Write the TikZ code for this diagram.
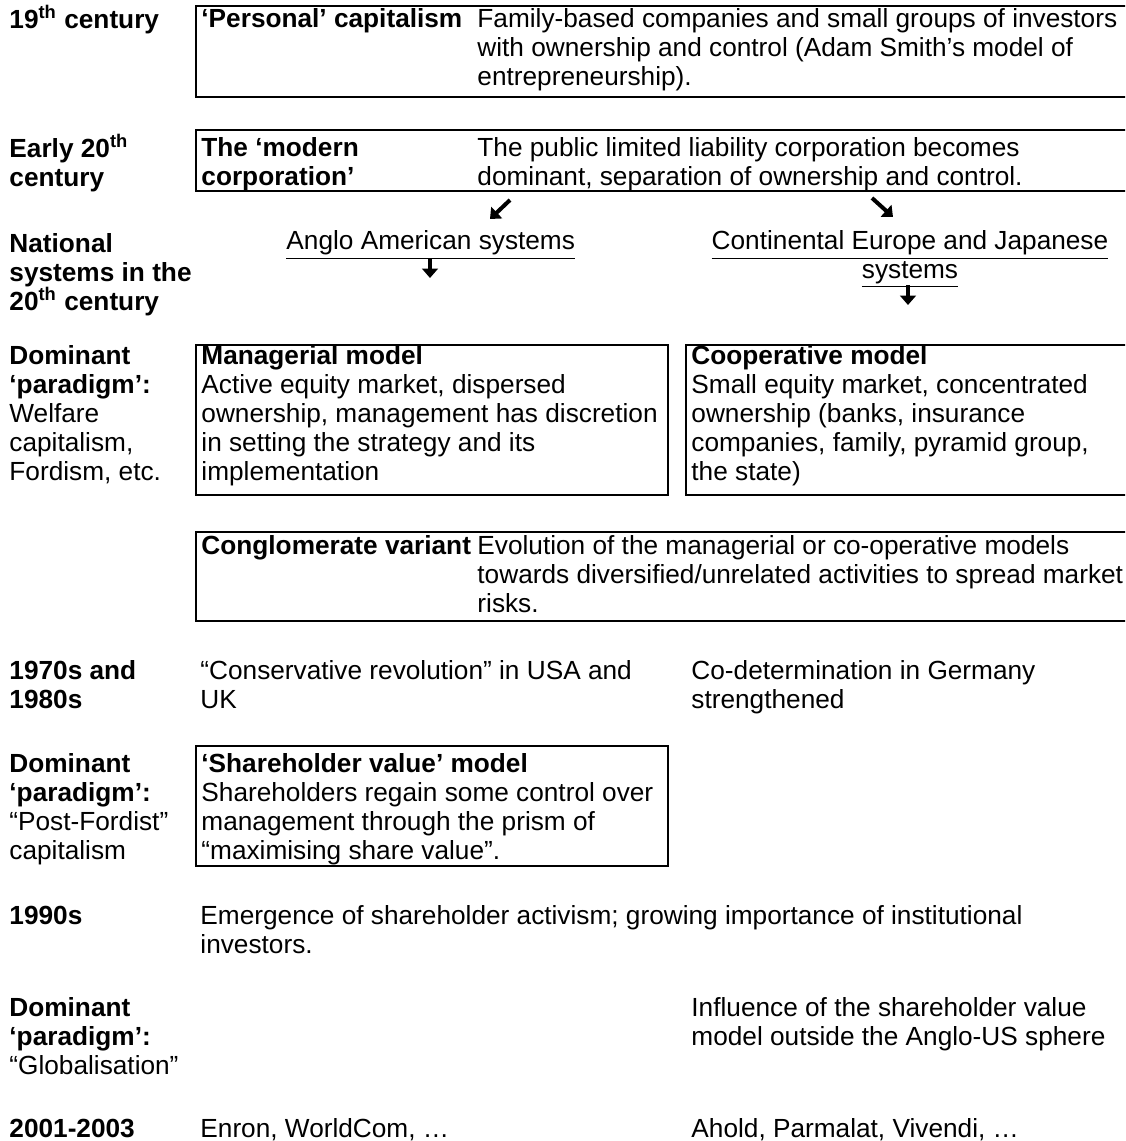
\documentclass[tikz,border=0pt]{standalone}
\usepackage{fontspec}
\setmainfont{Liberation Sans}
\usetikzlibrary{arrows.meta,positioning}
\newcommand\lnstrut{\rule{0pt}{10pt}}

\begin{document}
\begin{tikzpicture}[x=0.45pt, y=-0.45pt, txt/.style={anchor=north west, yshift=10pt, inner sep=0pt, align=left, font=\fontsize{11.8}{13}\selectfont}, lbl/.style={txt, font=\fontsize{11.8}{13}\selectfont\bfseries}, frame/.style={draw, line width=1.1pt}, fatarr/.style={line width=1.8pt, -{Triangle[width=7pt,length=4.2pt]}}]
    \useasboundingbox (0,0) rectangle (1125,1141);
    \clip (0,0) rectangle (1125,1141);
    \draw[frame] (196,6) rectangle (1135,97);
    \draw[frame] (196,130) rectangle (1135,191);
    \draw[frame] (196,345) rectangle (668,495);
    \draw[frame] (686,345) rectangle (1135,495);
    \draw[frame] (196,532) rectangle (1135,621);
    \draw[frame] (196,746) rectangle (668,866);
    \node[lbl] (c19) at (9,27) {\lnstrut 19\textsuperscript{th} century};
    \node[lbl] (pers) at (201,27) {\lnstrut ‘Personal’ capitalism};
    \node[txt] (persd) at (477,27) {\lnstrut Family-based companies and small groups of investors\\with ownership and control (Adam Smith’s model of\\entrepreneurship).};
    \node[lbl] (c20) at (9,156) {\lnstrut Early 20\textsuperscript{th}\\century};
    \node[lbl] (modern) at (201,156) {\lnstrut The ‘modern\\corporation’};
    \node[txt] (modernd) at (477,156) {\lnstrut The public limited liability corporation becomes\\dominant, separation of ownership and control.};
    \node[lbl] (natl) at (9,252) {\lnstrut National\\systems in the\\20\textsuperscript{th} century};
    \node[txt] (anglo) at (286,249) {\lnstrut\underline{Anglo American systems}};
    \node[txt, align=center, anchor=north] (conti) at (910,249) {\lnstrut\underline{Continental Europe and Japanese}\\\underline{systems}};
    \coordinate (sw1) at (510,200);
    \coordinate (sw2) at (490,219);
    \coordinate (se1) at (872,198);
    \coordinate (se2) at (893,217);
    \coordinate (dn1) at (430,258);
    \coordinate (dn2) at (430,278);
    \coordinate (dn3) at (908,285);
    \coordinate (dn4) at (908,305);
    \draw[fatarr] (sw1) -- (sw2);
    \draw[fatarr] (se1) -- (se2);
    \draw[fatarr] (dn1) -- (dn2);
    \draw[fatarr] (dn3) -- (dn4);
    \node[txt] (dom1) at (9,364) {\lnstrut\textbf{Dominant}\\\textbf{‘paradigm’:}\\Welfare\\capitalism,\\Fordism, etc.};
    \node[txt] (mgr) at (201,364) {\lnstrut\textbf{Managerial model}\\Active equity market, dispersed\\ownership, management has discretion\\in setting the strategy and its\\implementation};
    \node[txt] (coop) at (691,364) {\lnstrut\textbf{Cooperative model}\\Small equity market, concentrated\\ownership (banks, insurance\\companies, family, pyramid group,\\the state)};
    \node[lbl] (congl) at (201,554) {\lnstrut Conglomerate variant};
    \node[txt] (congld) at (477,554) {\lnstrut Evolution of the managerial or co-operative models\\towards diversified/unrelated activities to spread market\\risks.};
    \node[lbl] (c70) at (9,679) {\lnstrut 1970s and\\1980s};
    \node[txt] (cons) at (200,679) {\lnstrut“Conservative revolution” in USA and\\UK};
    \node[txt] (codet) at (691,679) {\lnstrut Co-determination in Germany\\strengthened};
    \node[txt] (dom2) at (9,772) {\lnstrut\textbf{Dominant}\\\textbf{‘paradigm’:}\\“Post-Fordist”\\capitalism};
    \node[txt] (shv) at (201,772) {\lnstrut\textbf{‘Shareholder value’ model}\\Shareholders regain some control over\\management through the prism of\\“maximising share value”.};
    \node[lbl] (c90) at (9,924) {\lnstrut 1990s};
    \node[txt] (emerg) at (200,924) {\lnstrut Emergence of shareholder activism; growing importance of institutional\\investors.};
    \node[txt] (dom3) at (9,1016) {\lnstrut\textbf{Dominant}\\\textbf{‘paradigm’:}\\“Globalisation”};
    \node[txt] (infl) at (691,1016) {\lnstrut Influence of the shareholder value\\model outside the Anglo-US sphere};
    \node[lbl] (c01) at (9,1137) {\lnstrut 2001-2003};
    \node[txt] (enron) at (200,1137) {\lnstrut Enron, WorldCom, …};
    \node[txt] (ahold) at (691,1137) {\lnstrut Ahold, Parmalat, Vivendi, …};
  \end{tikzpicture}
\end{document}
